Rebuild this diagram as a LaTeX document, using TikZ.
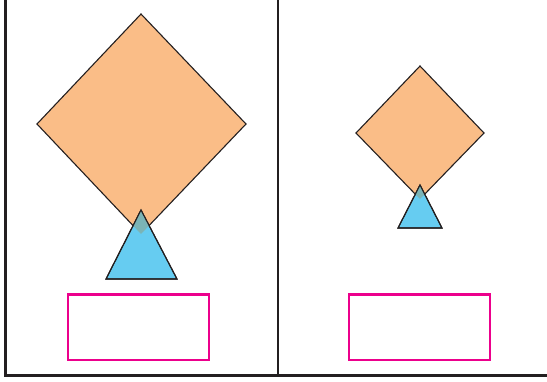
\documentclass[tikz,border=0pt]{standalone}
\definecolor{frameC}{HTML}{231F20}
\definecolor{orangeC}{HTML}{FABD87}
\definecolor{blueC}{HTML}{66CCF1}
\definecolor{overC}{HTML}{7BB4B6}
\definecolor{magC}{HTML}{EC008C}
\tikzset{
  frameline/.style={draw=frameC, line width=2.4pt},
  kite/.style={fill=orangeC, draw=frameC, line width=1.1pt, line join=miter},
  tri/.style={fill=blueC, draw=frameC, line width=1.1pt},
  triline/.style={draw=frameC, line width=1.1pt},
  overlap/.style={fill=overC},
  magbox/.style={draw=magC, line width=2.1pt},
}
\begin{document}
\begin{tikzpicture}[x=1pt,y=-1pt]
\useasboundingbox (0,0) rectangle (547,381);
% frame
\draw[frameline] (5.5,0) -- (5.5,375.5) -- (547,375.5);
\draw[frameline] (278,0) -- (278,375.5);
% left figure
\coordinate (LT) at (141,14);
\coordinate (LL) at (37,124);
\coordinate (LR) at (246,124);
\coordinate (LB) at (141,234);
\coordinate (TA) at (141,210);
\coordinate (TL) at (106,279);
\coordinate (TR) at (177,279);
\path[kite] (LT) -- (LR) -- (LB) -- (LL) -- cycle;
\path[tri] (TA) -- (TR) -- (TL) -- cycle;
\begin{scope}
\clip (LT) -- (LR) -- (LB) -- (LL) -- cycle;
\fill[overlap] (TA) -- (TR) -- (TL) -- cycle;
\end{scope}
\draw[triline] (TA) -- (TR) -- (TL) -- cycle;
\draw[magbox] (68,294.5) rectangle (209,360);
% right figure
\coordinate (RT) at (420,66);
\coordinate (RL) at (356,133);
\coordinate (RR) at (484,133);
\coordinate (RB) at (420,199);
\coordinate (SA) at (420,185);
\coordinate (SL) at (398,228);
\coordinate (SR) at (442,228);
\path[kite] (RT) -- (RR) -- (RB) -- (RL) -- cycle;
\path[tri] (SA) -- (SR) -- (SL) -- cycle;
\begin{scope}
\clip (RT) -- (RR) -- (RB) -- (RL) -- cycle;
\fill[overlap] (SA) -- (SR) -- (SL) -- cycle;
\end{scope}
\draw[triline] (SA) -- (SR) -- (SL) -- cycle;
\draw[magbox] (349,294.5) rectangle (490,360);
\end{tikzpicture}
\end{document}
